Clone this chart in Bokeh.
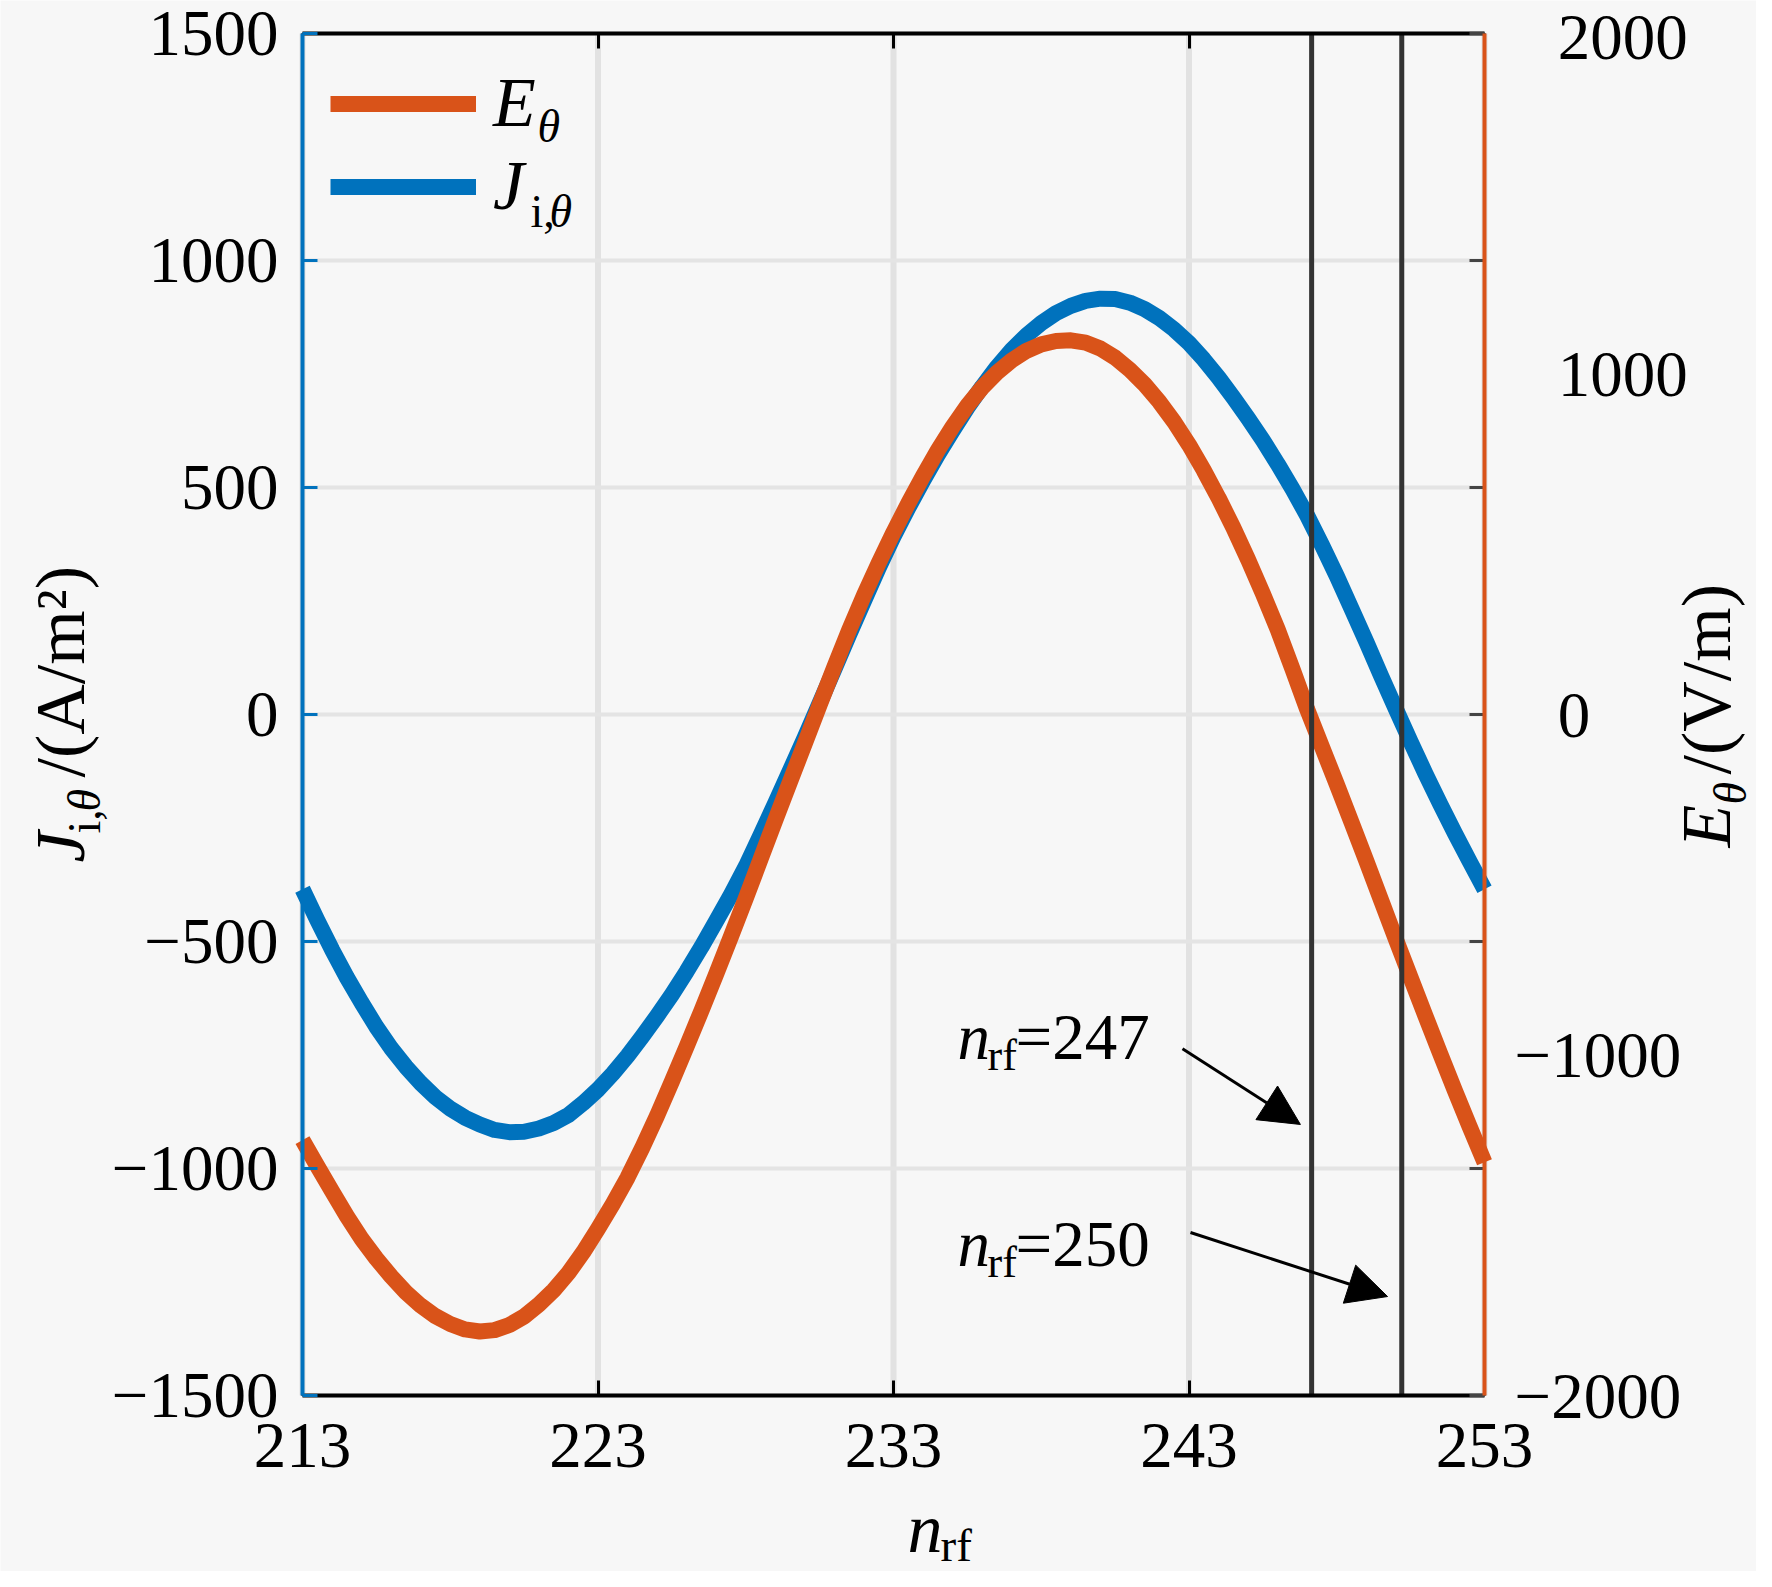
import numpy as np
from bokeh.plotting import figure
from bokeh.models import (Range1d, LinearAxis, FixedTicker, Arrow, NormalHead,
                          Label, Legend, LegendItem)
from bokeh.embed import file_html
from bokeh.resources import INLINE

# ---------------- data ----------------
n_rf = [213 + 0.5 * i for i in range(81)]
J_itheta = [-385, -453, -518, -579, -635, -688, -735, -776, -812, -843,
            -868, -888, -903, -915, -920, -919, -912, -900, -882, -856,
            -826, -791, -752, -709, -664, -617, -566, -512, -455, -397,
            -335, -266, -195, -123, -50, 25, 100, 176, 250, 323,
            392, 455, 515, 572, 625, 676, 722, 765, 803, 835,
            862, 884, 900, 911, 916, 915, 907, 893, 873, 848,
            818, 782, 742, 698, 652, 604, 552, 497, 438, 373,
            305, 233, 160, 85, 12, -60, -130, -197, -262, -324,
            -385]
E_theta = [-1250, -1326, -1400, -1473, -1540, -1598, -1650, -1697, -1736, -1767,
           -1790, -1806, -1812, -1808, -1793, -1768, -1733, -1691, -1640, -1579,
           -1510, -1438, -1360, -1272, -1178, -1078, -975, -870, -762, -652,
           -540, -425, -310, -197, -85, 28, 140, 248, 350, 445,
           535, 620, 700, 776, 845, 907, 960, 1004, 1040, 1068,
           1087, 1097, 1099, 1092, 1075, 1048, 1012, 969, 918, 859,
           792, 717, 636, 549, 455, 355, 250, 134, 15, -95,
           -205, -317, -430, -545, -660, -773, -885, -996, -1105, -1211,
           -1315]
x_lim = [213, 253]
J_lim = [-1500, 1500]
E_lim = [-2000, 2000]
x_ticks = [213, 223, 233, 243, 253]
J_ticks = [-1500, -1000, -500, 0, 500, 1000, 1500]
E_ticks = [-2000, -1000, 0, 1000, 2000]
marker_n = [247.15, 250.2]
marker_text = ["=247", "=250"]
arrow_x0 = [242.78, 243.05]
arrow_y0 = [-736, -1141]
arrow_x1 = [246.77, 249.72]
arrow_y1 = [-903, -1282]

BLUE = "#0072BD"
ORANGE = "#D95319"
BG = "#f7f7f7"
FONT = "Liberation Serif"

# ---------------- layout (canvas px) ----------------
W, H = 1756, 1571
FL, FR, FT, FB = 302, 1484, 33, 1395   # data-box edges on the canvas
kx = (x_lim[1] - x_lim[0]) / (FR - FL)
kj = (J_lim[1] - J_lim[0]) / (FB - FT)
ke = (E_lim[1] - E_lim[0]) / (FB - FT)

p = figure(width=W, height=H, output_backend="svg", toolbar_location=None,
           x_range=Range1d(x_lim[0] - FL * kx, x_lim[1] + (W - FR) * kx),
           y_range=Range1d(J_lim[0] - (H - FB) * kj, J_lim[1] + FT * kj),
           min_border=0)
p.extra_y_ranges = {"E": Range1d(E_lim[0] - (H - FB) * ke, E_lim[1] + FT * ke)}
p.background_fill_color = BG
p.border_fill_color = BG
p.outline_line_color = None
p.xgrid.visible = False
p.ygrid.visible = False


def dx(px):
    return x_lim[0] + (px - FL) * kx


def dy(py):
    return J_lim[1] - (py - FT) * kj


def minus(v):
    return ("\u2212" + str(-v)) if v < 0 else str(v)


# grid lines (inside the data box only)
nx, ny = len(x_ticks), len(J_ticks)
p.segment(x0=x_ticks, y0=[J_lim[0]] * nx, x1=x_ticks, y1=[J_lim[1]] * nx,
          line_color="#e2e2e2", line_width=6)
p.segment(x0=[x_lim[0]] * ny, y0=J_ticks, x1=[x_lim[1]] * ny, y1=J_ticks,
          line_color="#e4e4e4", line_width=4)


def style_axis(ax, line_color, tick_color, tick_in, standoff):
    ax.axis_line_color = line_color
    ax.axis_line_width = 4
    ax.major_tick_line_color = tick_color
    ax.major_tick_line_width = 3
    ax.major_tick_in = tick_in
    ax.major_tick_out = 0
    ax.minor_tick_line_color = None
    ax.major_label_text_font = FONT
    ax.major_label_text_font_size = "65px"
    ax.major_label_text_color = "black"
    ax.major_label_standoff = standoff


# bottom axis
xa = p.xaxis[0]
xa.ticker = FixedTicker(ticks=x_ticks)
xa.fixed_location = J_lim[0]
xa.bounds = tuple(x_lim)
style_axis(xa, "black", "black", 15, 28)

# left axis (J)
ya = p.yaxis[0]
ya.ticker = FixedTicker(ticks=J_ticks)
ya.fixed_location = x_lim[0]
ya.bounds = tuple(J_lim)
ya.major_label_overrides = {t: minus(t) for t in J_ticks}
style_axis(ya, BLUE, BLUE, 15, 24)

# top border with ticks
ta = LinearAxis(ticker=FixedTicker(ticks=x_ticks), fixed_location=J_lim[1], bounds=tuple(x_lim))
style_axis(ta, "black", "black", 15, 0)
ta.major_label_text_color = None
p.add_layout(ta, "above")

# right border: mirrored J ticks
rm = LinearAxis(ticker=FixedTicker(ticks=J_ticks), fixed_location=x_lim[1], bounds=tuple(J_lim))
style_axis(rm, None, "#444444", 15, 0)
rm.major_label_text_color = None
p.add_layout(rm, "right")

# right axis (E)
ea = LinearAxis(y_range_name="E", ticker=FixedTicker(ticks=E_ticks), fixed_location=x_lim[1],
                bounds=tuple(E_lim))
ea.major_label_overrides = {t: (minus(t) if t < 0 else "\u2002\u2006" + str(t)) for t in E_ticks}
style_axis(ea, ORANGE, None, 0, 30)
p.add_layout(ea, "right")

# curves
rJ = p.line(n_rf, J_itheta, line_color=BLUE, line_width=16, line_join="round", line_cap="butt")
rE = p.line(n_rf, E_theta, line_color=ORANGE, line_width=16, line_join="round", line_cap="butt",
            y_range_name="E")

# marker lines
nm = len(marker_n)
p.segment(x0=marker_n, y0=[J_lim[0]] * nm, x1=marker_n, y1=[J_lim[1]] * nm,
          line_color="#333333", line_width=5)

# arrows
for x0, y0, x1, y1 in zip(arrow_x0, arrow_y0, arrow_x1, arrow_y1):
    p.add_layout(Arrow(x_start=x0, y_start=y0, x_end=x1, y_end=y1, line_width=3, line_color="black",
                       end=NormalHead(size=40, fill_color="black", line_color="black")))

SHIFT = 0.33   # baseline correction (em)


def add_text(px, py, text, size, italic=False, rotated=False):
    if rotated:
        px = px - SHIFT * size
    else:
        py = py - SHIFT * size
    p.add_layout(Label(x=dx(px), y=dy(py), text=text, text_font=FONT,
                       text_font_size=f"{size}px",
                       text_font_style="italic" if italic else "normal",
                       text_color="black", text_align="left", text_baseline="alphabetic",
                       angle=np.pi / 2 if rotated else 0.0))


# marker annotations
for k, t in enumerate(marker_text):
    base = 1058 + k * 207
    add_text(957, base, "n", 65, italic=True)
    add_text(987, base + 12, "rf", 44)
    add_text(1015, base, t, 65)

# legend (top-left of the data box)
legend = Legend(items=[LegendItem(label="E", renderers=[rE]), LegendItem(label="J", renderers=[rJ])],
                location=(323, H - 233), margin=0, padding=7, spacing=3,
                glyph_width=146, glyph_height=71, label_height=71, label_standoff=17,
                label_text_font=FONT, label_text_font_style="italic", label_text_font_size="70px",
                label_text_color="black",
                background_fill_alpha=0, border_line_alpha=0)
p.add_layout(legend)
add_text(537, 141, "\u03b8", 46, italic=True)
add_text(530, 226, "i,", 46)
add_text(549, 226, "\u03b8", 46, italic=True)

# axis titles
add_text(907, 1551, "n", 70, italic=True)
add_text(940, 1560, "rf", 47)

add_text(83, 862, "J", 70, italic=True, rotated=True)
add_text(99, 833, "i,", 46, rotated=True)
add_text(99, 811, "\u03b8", 46, italic=True, rotated=True)
add_text(83, 777, "/(A/m\u00b2)", 70, rotated=True)

add_text(1729, 847, "E", 70, italic=True, rotated=True)
add_text(1745, 804, "\u03b8", 46, italic=True, rotated=True)
add_text(1729, 774, "/(V/m)", 70, rotated=True)

open("out.html", "w").write(file_html(p, INLINE))
